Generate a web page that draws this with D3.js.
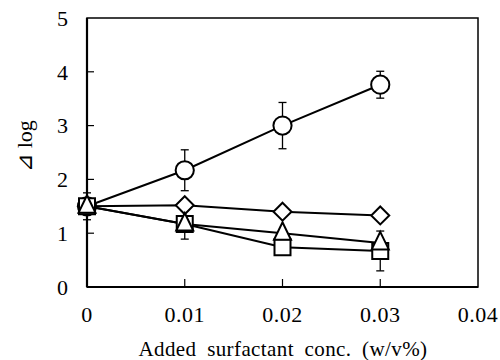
<!DOCTYPE html>
<html>
<head>
<meta charset="utf-8">
<script src="https://cdn.jsdelivr.net/npm/d3@7"></script>
<style>
body { margin: 0; background: #fff; }
svg text { font-family: "Liberation Serif", "DejaVu Serif", serif; fill: #000; }
</style>
</head>
<body>
<div class="chart"></div>
<script>
var conc = [0, 0.01, 0.02, 0.03];
var xTicks = [0, 0.01, 0.02, 0.03, 0.04];
var yTicks = [0, 1, 2, 3, 4, 5];

var circleVals = [1.5, 2.17, 3.0, 3.76];
var circleErr = [0.25, 0.38, 0.43, 0.25];
var diamondVals = [1.5, 1.52, 1.40, 1.33];
var diamondErr = [0.1, 0.1, 0.08, 0.08];
var squareVals = [1.5, 1.17, 0.74, 0.67];
var squareErr = [0.1, 0.28, 0.06, 0.37];
var triangleVals = [1.5, 1.17, 1.0, 0.82];
var triangleErr = [0.05, 0.05, 0.05, 0.05];

var series = [
	{name: "circle", vals: circleVals, err: circleErr},
	{name: "diamond", vals: diamondVals, err: diamondErr},
	{name: "square", vals: squareVals, err: squareErr},
	{name: "triangle", vals: triangleVals, err: triangleErr}
];

var margin = {top: 18, bottom: 73, left: 87, right: 22};
var width = 500 - margin.left - margin.right;
var height = 360 - margin.top - margin.bottom;

var svg = d3.select(".chart").append("svg")
	.attr("width", 500)
	.attr("height", 360);

var g = svg.append("g").attr("transform", "translate(" + margin.left + "," + margin.top + ")");

var x = d3.scaleLinear().domain([0, 0.04]).range([0, width]);
var y = d3.scaleLinear().domain([0, 5]).range([height, 0]);

// frame
g.append("rect")
	.attr("width", width).attr("height", height)
	.attr("fill", "none").attr("stroke", "#000").attr("stroke-width", 1.5);
g.append("line").attr("x1", 0).attr("x2", 0).attr("y1", 0).attr("y2", height)
	.attr("stroke", "#000").attr("stroke-width", 2.2);
g.append("line").attr("x1", 0).attr("x2", width).attr("y1", height).attr("y2", height)
	.attr("stroke", "#000").attr("stroke-width", 2.2);

// inward ticks
g.selectAll(".ytick").data(yTicks.slice(1, -1)).enter().append("line")
	.attr("x1", 0).attr("x2", 7)
	.attr("y1", function(d) { return y(d); }).attr("y2", function(d) { return y(d); })
	.attr("stroke", "#000").attr("stroke-width", 1.2);
g.selectAll(".xtick").data(xTicks.slice(1, -1)).enter().append("line")
	.attr("x1", function(d) { return x(d); }).attr("x2", function(d) { return x(d); })
	.attr("y1", height).attr("y2", height - 8)
	.attr("stroke", "#000").attr("stroke-width", 1.2);

// tick labels
g.selectAll(".ylab").data(yTicks).enter().append("text")
	.attr("x", -19).attr("y", function(d) { return y(d); })
	.attr("dy", "0.35em")
	.attr("text-anchor", "end")
	.attr("font-size", "22px")
	.text(function(d) { return d; });
g.selectAll(".xlab").data(xTicks).enter().append("text")
	.attr("x", function(d) { return x(d); }).attr("y", height + 35)
	.attr("text-anchor", "middle")
	.attr("font-size", "22px")
	.attr("letter-spacing", "0.5px")
	.text(function(d) { return d === 0 ? "0" : d3.format(".2f")(d); });

// axis titles
svg.append("text")
	.attr("x", 283).attr("y", 356)
	.attr("text-anchor", "middle")
	.attr("font-size", "21px")
	.attr("letter-spacing", "0.4px")
	.attr("word-spacing", "5px")
	.text("Added surfactant conc. (w/v%)");
svg.append("text")
	.attr("transform", "translate(32,146) rotate(-90)")
	.attr("text-anchor", "middle")
	.attr("font-size", "22px")
	.text("⊿ log");

var line = d3.line()
	.x(function(d, i) { return x(conc[i]); })
	.y(function(d) { return y(d); });

series.forEach(function(s) {
	g.append("path").datum(s.vals)
		.attr("d", line)
		.attr("fill", "none").attr("stroke", "#000").attr("stroke-width", 2);
});

// error bars
series.forEach(function(s) {
	var eb = g.selectAll(".eb-" + s.name).data(s.vals).enter().append("g");
	eb.append("line")
		.attr("x1", function(d, i) { return x(conc[i]); }).attr("x2", function(d, i) { return x(conc[i]); })
		.attr("y1", function(d, i) { return y(d + s.err[i]); }).attr("y2", function(d, i) { return y(d - s.err[i]); })
		.attr("stroke", "#000").attr("stroke-width", 1.3);
	[1, -1].forEach(function(sign) {
		eb.append("line")
			.attr("x1", function(d, i) { return x(conc[i]) - 4; }).attr("x2", function(d, i) { return x(conc[i]) + 4; })
			.attr("y1", function(d, i) { return y(d + sign * s.err[i]); }).attr("y2", function(d, i) { return y(d + sign * s.err[i]); })
			.attr("stroke", "#000").attr("stroke-width", 1.3);
	});
});

// markers
var shapes = {
	circle: d3.symbol().type(d3.symbolCircle).size(260),
	diamond: function() { return "M0,-9L9,0L0,9L-9,0Z"; },
	square: function() { return "M-8,-8H8V8H-8Z"; },
	triangle: function() { return "M0,-11L8.5,6.5H-8.5Z"; }
};
series.forEach(function(s) {
	g.selectAll(".m-" + s.name).data(s.vals).enter().append("path")
		.attr("transform", function(d, i) { return "translate(" + x(conc[i]) + "," + y(d) + ")"; })
		.attr("d", shapes[s.name])
		.attr("fill", "#fff").attr("stroke", "#000").attr("stroke-width", 2);
});
</script>
</body>
</html>
